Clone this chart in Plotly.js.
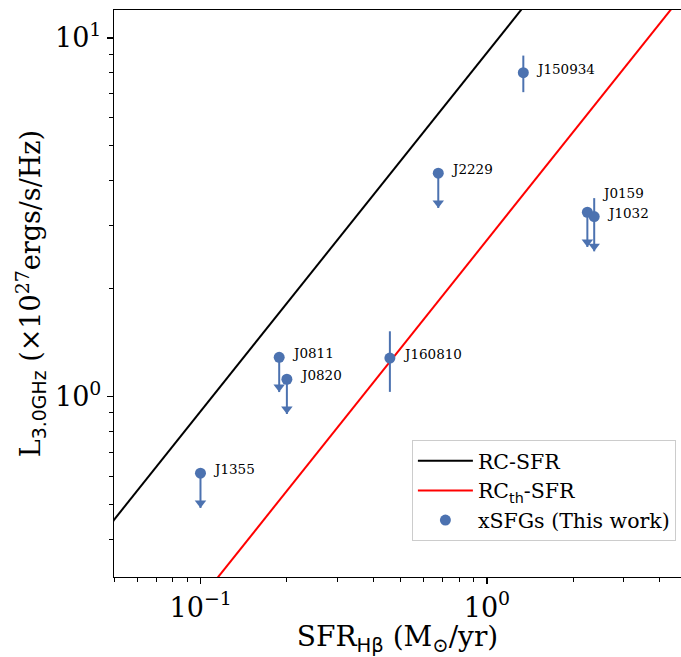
<!DOCTYPE html>
<html>
<head>
<meta charset="utf-8">
<script src="https://cdn.plot.ly/plotly-3.0.1.min.js"></script>
<style>html,body{margin:0;padding:0;background:#fff;overflow:hidden;}</style>
</head>
<body>
<div id="chart" style="width:681px;height:657px;"></div>
<script>
// ---- data ----
const names   = ['J1355', 'J0811', 'J0820', 'J160810', 'J2229', 'J150934', 'J0159', 'J1032'];
const sfr     = [0.0998, 0.188, 0.200, 0.458, 0.676, 1.34, 2.243, 2.37];
const lum     = [0.611, 1.286, 1.117, 1.28, 4.195, 8.00, 3.265, 3.175];
const errUp   = [0, 0, 0, 0.24, 0, 0.93, 0, 0.40];
const errDown = [0, 0, 0, 0.25, 0, 0.94, 0, 0];
const upperLimit = [true, true, true, false, true, false, true, true];

// relation lines (two points each)
const rcSfrX = [0.04, 6];
const rcSfrY = [0.364, 54.6];
const rcThX  = [0.04, 6];
const rcThY  = [0.109, 16.4];

// tick labels
const majorVals = [0.1, 1, 10];
const majorText = ['10<sup>\u22121</sup>', '10<sup>0</sup>', '10<sup>1</sup>'];
const xMinor = [0.05, 0.06, 0.07, 0.08, 0.09, 0.2, 0.3, 0.4, 0.5, 0.6, 0.7, 0.8, 0.9, 2, 3, 4];
const yMinor = [0.4, 0.5, 0.6, 0.7, 0.8, 0.9, 2, 3, 4, 5, 6, 7, 8, 9];

// ---- style ----
const BLUE = '#4c72b0';
const LIMIT_FRAC = 0.2;          // length of the upper-limit arrow (fraction of value)
const HEAD_SIZE = 10;            // arrow head marker size (px)
const labelShift = {J0159: [13, 19]};
const defaultShift = [11, 4];
const SANS = "font-family:'DejaVu Sans'";
const W = 681, H = 657, M = {l: 114, r: 0, t: 10, b: 80};
const xRange = [-1.303, 0.678];
const yRange = [-0.5035, 1.078];

// arrow geometry derived from data + axis scale
const pxPerDecY = (H - M.t - M.b) / (yRange[1] - yRange[0]);
const limX = [], limHeadY = [];
const downArr = lum.map((v, i) => upperLimit[i] ? v * LIMIT_FRAC : errDown[i]);
for (let i = 0; i < lum.length; i++) {
  if (upperLimit[i]) {
    limX.push(sfr[i]);
    // centre the triangle so its tip sits at the end of the limit bar
    limHeadY.push(lum[i] * (1 - LIMIT_FRAC) * Math.pow(10, (HEAD_SIZE / 2) / pxPerDecY));
  }
}

const traces = [
  {x: rcSfrX, y: rcSfrY, mode: 'lines', name: 'RC-SFR',
   line: {color: '#000000', width: 2}, hoverinfo: 'skip'},
  {x: rcThX, y: rcThY, mode: 'lines',
   name: 'RC<span style="' + SANS + '"><sub>th</sub></span>-SFR',
   line: {color: '#ff0000', width: 2}, hoverinfo: 'skip'},
  {x: sfr, y: lum, mode: 'markers', name: 'xSFGs (This work)',
   marker: {color: BLUE, size: 11},
   error_y: {type: 'data', symmetric: false, array: errUp, arrayminus: downArr,
             color: BLUE, thickness: 2, width: 0}},
  {x: limX, y: limHeadY, mode: 'markers', showlegend: false, hoverinfo: 'skip',
   marker: {color: BLUE, size: HEAD_SIZE, symbol: 'triangle-down', line: {width: 0}}}
];

const annotations = names.map((n, i) => {
  const sh = labelShift[n] || defaultShift;
  return {
    x: Math.log10(sfr[i]), y: Math.log10(lum[i]), xref: 'x', yref: 'y',
    text: n, showarrow: false, xanchor: 'left', yanchor: 'middle',
    xshift: sh[0], yshift: sh[1],
    font: {family: 'DejaVu Serif', size: 13.5, color: '#000'}
  };
});

const axisCommon = {
  type: 'log', showgrid: false, zeroline: false,
  showline: true, linecolor: '#000', linewidth: 1.2,
  ticks: 'outside', ticklen: 6, tickwidth: 1.2, tickcolor: '#000',
  tickmode: 'array', tickvals: majorVals, ticktext: majorText,
  tickfont: {family: 'DejaVu Serif', size: 27, color: '#000'}
};

const layout = {
  width: W, height: H,
  margin: M,
  paper_bgcolor: '#fff', plot_bgcolor: '#fff',
  font: {family: 'DejaVu Serif', color: '#000'},
  showlegend: true,
  legend: {x: 0.991, xanchor: 'right', y: 0.0635, yanchor: 'bottom',
           bgcolor: 'rgba(255,255,255,0.8)', bordercolor: '#cccccc', borderwidth: 1,
           font: {family: 'DejaVu Serif', size: 20.5, color: '#000'}, itemwidth: 55},
  xaxis: Object.assign({}, axisCommon, {
    range: xRange, mirror: true,
    minor: {tickmode: 'array', tickvals: xMinor, ticks: 'outside', ticklen: 3.5,
            tickwidth: 1, tickcolor: '#000', showgrid: false},
    title: {text: 'SFR<span style="' + SANS + '"><sub>H\u03b2</sub></span> (M<sub>\u2299</sub>/yr)',
            font: {family: 'DejaVu Serif', size: 28, color: '#000'}, standoff: 8}
  }),
  yaxis: Object.assign({}, axisCommon, {
    range: yRange, mirror: false,
    minor: {tickmode: 'array', tickvals: yMinor, ticks: 'outside', ticklen: 3.5,
            tickwidth: 1, tickcolor: '#000', showgrid: false},
    title: {text: 'L<span style="' + SANS + '"><sub>3.0GHz</sub></span> (\u00d710<sup>27</sup>ergs/s/Hz)',
            font: {family: 'DejaVu Serif', size: 27, color: '#000'}, standoff: 6}
  }),
  annotations: annotations
};

Plotly.newPlot('chart', traces, layout, {displayModeBar: false, staticPlot: true});
</script>
</body>
</html>
